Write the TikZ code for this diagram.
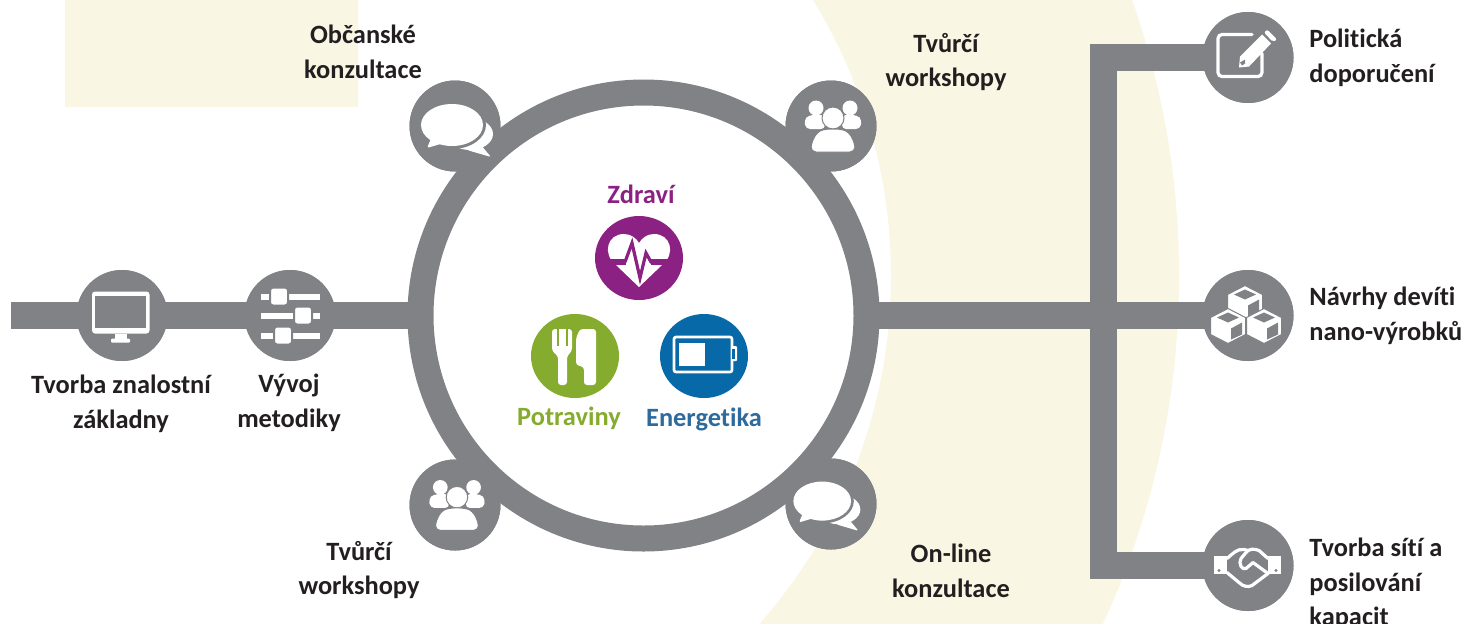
\documentclass[tikz,border=0pt]{standalone}
\usepackage{fontspec}
\usetikzlibrary{shapes.geometric}
\setmainfont{Carlito}[Ligatures=NoCommon]
\definecolor{gr}{HTML}{808285}
\definecolor{pale}{HTML}{F9F6E3}
\definecolor{purp}{HTML}{8B2283}
\definecolor{grn}{HTML}{85AC2E}
\definecolor{blu}{HTML}{0769A8}
\definecolor{engt}{HTML}{2F6A9D}
\definecolor{ink}{HTML}{231F20}
\tikzset{
  conn/.style={draw=gr,line width=13.5pt,line join=miter},
  sat/.style={circle,fill=gr,minimum size=45.5pt,inner sep=0pt,outer sep=0pt},
  core/.style={ellipse,minimum width=44pt,minimum height=42pt,inner sep=0pt,outer sep=0pt},
  ringnode/.style={circle,draw=gr,fill=white,line width=13pt,minimum size=223pt,inner sep=0pt},
  lab/.style={font=\fontsize{13.2}{17.3}\selectfont\bfseries,text=ink,align=center,inner sep=0pt},
  labl/.style={lab,align=left,anchor=west},
  cat/.style={font=\fontsize{13.2}{17.3}\selectfont\bfseries,inner sep=0pt},
  chaticon/.pic={
    \fill[white,rounded corners=1pt] (20,12)--(36,31)--(12,24)--cycle;
    \fill[white] (15,8) ellipse[x radius=23,y radius=16];
    \fill[gr] (-3,-1) ellipse[x radius=34,y radius=24];
    \fill[white,rounded corners=1pt] (-22,8)--(-28,22)--(-8,16)--cycle;
    \fill[white] (-3,-1) ellipse[x radius=31,y radius=21];
  },
  peopleicon/.pic={
    \fill[white] (-15,-18) circle[radius=7.5];
    \fill[white] (19,-18) circle[radius=7.5];
    \fill[white,rounded corners=2pt] (-25,3)--(-27,-6)--(-22,-11)--(-6,-11)--(-6,3)--cycle;
    \fill[white,rounded corners=2pt] (29,3)--(31,-6)--(26,-11)--(11,-11)--(11,3)--cycle;
    \draw[gr,fill=white,line width=0.5pt] (2,-8) circle[radius=11];
    \draw[gr,fill=white,line width=0.5pt,rounded corners=2.5pt]
      (-20,26)--(-20,18)--(-14,6)--(-6,3)--(10,3)--(18,6)--(24,18)--(24,26)--cycle;
  },
  peniconx/.pic={
    \draw[white,line width=1.6pt,rounded corners=2pt,line cap=round]
      (4,-23)--(-30,-23)--(-30,19)--(14,19)--(14,-4);
    \fill[white] (-9,10)--(-8,-1)--(14,-23)--(23,-14)--(1,9)--cycle;
    \fill[white,rounded corners=1pt] (16,-25)--(19,-28)--(29,-18)--(25,-15.5)--cycle;
    \fill[gr] (-8,5)--(-3,2)--(-3,6)--(-6,8)--cycle;
  },
  cubeicon/.pic={
    \draw[gr,fill=white,line width=0.5pt,line join=round] (-17.5,-8)--(0,-17)--(17.5,-8)--(17.5,9)--(0,18)--(-17.5,9)--cycle;
    \fill[gr] (-11,-8)--(0,-13)--(11,-8)--(0,-3)--cycle;
    \fill[gr] (3,3)--(14,-3)--(14,9)--(3,14)--cycle;
  },
  handicon/.pic={
    \fill[white] (-34,-10) rectangle (-21,8);
    \fill[white] (20,-10) rectangle (33,8);
    \fill[gr] (-29,5) circle[radius=1.6];
    \fill[gr] (28,5) circle[radius=1.6];
    \draw[white,line width=1.6pt,line join=round,line cap=round]
      (-21,-7) .. controls (-15,-12) and (-11,-17) .. (-4,-16) -- (0,-15);
    \draw[white,line width=1.6pt,line join=round,line cap=round]
      (20,-7) -- (11,-15) .. controls (6,-17) and (1,-17) .. (-2,-13) -- (-7,-7)
      .. controls (-10,-2) and (-6,5) .. (-2,3) -- (5,-3) -- (20,8);
    \draw[white,line width=1.6pt,line join=round,line cap=round]
      (-21,7) -- (-9,17) .. controls (-5,21) and (0,22) .. (4,20) -- (20,8);
  },
}
\begin{document}
\begin{tikzpicture}[x=0.5pt,y=-0.5pt]
\useasboundingbox (0,0) rectangle (1467,623);
\fill[white] (0,0) rectangle (1467,623);
% backdrop
\fill[pale] (65,0) rectangle (358,107);
\begin{scope}
  \clip (700,0) rectangle (1467,623);
  \fill[pale,even odd rule] (348,276) circle[radius=831] (365,276) circle[radius=526];
\end{scope}
% named anchors of the connectors
\coordinate (lstart) at (11,315.5);
\coordinate (junction) at (1103.5,315.5);
% nodes placed first so connectors can refer to them
\path
  node[sat] (monitor) at (122,315.5) {}
  node[sat] (sliders) at (290,315.5) {}
  node[sat] (chatTL) at (455,126) {}
  node[sat] (peopleTR) at (831,126) {}
  node[sat] (peopleBL) at (455,505) {}
  node[sat] (chatBR) at (831,504) {}
  node[sat] (pen) at (1248,57.5) {}
  node[sat] (cubes) at (1248,315.5) {}
  node[sat] (hands) at (1248,565.5) {}
  node[ringnode,fill=none,draw=none] (ringpos) at (643.5,315.5) {};
% connectors
\draw[conn] (lstart) -- (monitor.center) -- (sliders.center) -- (ringpos.center);
\draw[conn] (ringpos.center) -- (junction) -- (cubes.center);
\draw[conn] (pen.center) -| (junction) |- (hands.center);
% ring
\node[ringnode] (ring) at (ringpos.center) {};
% circles on top of the connectors and ring
\foreach \n in {monitor,sliders,chatTL,peopleTR,peopleBL,chatBR,pen,cubes,hands}
  \fill[gr] (\n.center) circle[radius=45.5];
% core circles
\node[core,fill=purp] (health) at (639,258) {};
\node[core,fill=grn] (food) at (575,356) {};
\node[core,fill=blu] (energy) at (704,356) {};
% icons
\pic at (chatTL.center) {chaticon};
\pic[scale=0.93] at (825,502) {chaticon};
\pic at (peopleTR.center) {peopleicon};
\pic[scale=0.98] at (peopleBL.center) {peopleicon};
\pic at (pen.center) {peniconx};
\begin{scope}[shift={(cubes.center)}]
  \pic at (-3,-13) {cubeicon};
  \pic at (-20,10) {cubeicon};
  \pic at (16,10) {cubeicon};
\end{scope}
\pic at (hands.center) {handicon};
% monitor
\begin{scope}[shift={(monitor.center)}]
  \fill[white,rounded corners=1.5pt] (-30,-24) rectangle (27.5,18);
  \fill[gr] (-27,-19.5) rectangle (24,12.5);
  \fill[white] (-7,18) rectangle (5,23);
  \fill[white,rounded corners=0.5pt] (-11,23) rectangle (8,27);
\end{scope}
% sliders
\begin{scope}[shift={(sliders.center)}]
  \foreach \yy/\kx in {-19/-11,0/13,20/-7}{
    \fill[white] (-29,\yy-3) rectangle (30,\yy+3);
    \draw[gr,fill=white,line width=1pt,rounded corners=1.5pt] (\kx-9,\yy-9) rectangle (\kx+9,\yy+9);
  }
\end{scope}
% heart
\begin{scope}[shift={(health.center)}]
  \fill[white] (0,29) -- (-23,7) .. controls (-37,-4) and (-32,-24) .. (-15,-24)
    .. controls (-8,-24) and (-3,-20) .. (0,-15)
    .. controls (3,-20) and (8,-24) .. (15,-24)
    .. controls (32,-24) and (37,-4) .. (23,7) -- cycle;
  \fill[purp] (-36,1) rectangle (-13,7);
  \fill[purp] (12,1) rectangle (36,7);
  \draw[purp,line width=1.6pt,line join=miter] (-14,4)--(-7,-15)--(1,20)--(7,-5)--(12,4)--(16,4);
\end{scope}
% fork and knife
\begin{scope}[shift={(food.center)}]
  \fill[white,rounded corners=1.5pt] (-23,-27) -- (-23,-5) -- (-17,0) -- (-17,29) -- (-8,29) -- (-8,0) -- (-3,-5) -- (-3,-27) -- cycle;
  \fill[grn] (-18.5,-28) rectangle (-16.5,-10);
  \fill[grn] (-9.5,-28) rectangle (-7.5,-10);
  \fill[white,rounded corners=1.5pt] (5,-27) -- (21,-27) -- (21,29) -- (9,29) -- (9,11) -- (1,9) -- (1,-18) -- cycle;
\end{scope}
% battery
\begin{scope}[shift={(energy.center)}]
  \draw[white,line width=1.3pt,rounded corners=1pt] (-30,-19) rectangle (28,16);
  \fill[white] (-25,-13) rectangle (1,10);
  \fill[white,rounded corners=0.5pt] (28,-10) rectangle (33,5);
  \fill[blu] (28,-7.5) rectangle (30.5,2.5);
\end{scope}
% labels
\node[lab] (t1) at (363,52) {Občanské\\konzultace};
\node[lab] (t2) at (946,62) {Tvůrčí\\workshopy};
\node[lab] (t3) at (359,570) {Tvůrčí\\workshopy};
\node[lab] (t4) at (951,571) {On-line\\konzultace};
\node[lab] (t5) at (121,404) {Tvorba znalostní\\základny};
\node[lab] (t6) at (289,403) {Vývoj\\metodiky};
\node[labl] (t7) at (1309,58) {Politická\\doporučení};
\node[labl] (t8) at (1309,316) {Návrhy devíti\\nano-výrobků};
\node[labl] (t9) at (1309,584) {Tvorba sítí a\\posilování\\kapacit};
\node[cat,text=purp] (t10) at (641,194) {Zdraví};
\node[cat,text=grn] (t11) at (569,418) {Potraviny};
\node[cat,text=engt] (t12) at (704,419) {Energetika};
\end{tikzpicture}
\end{document}
